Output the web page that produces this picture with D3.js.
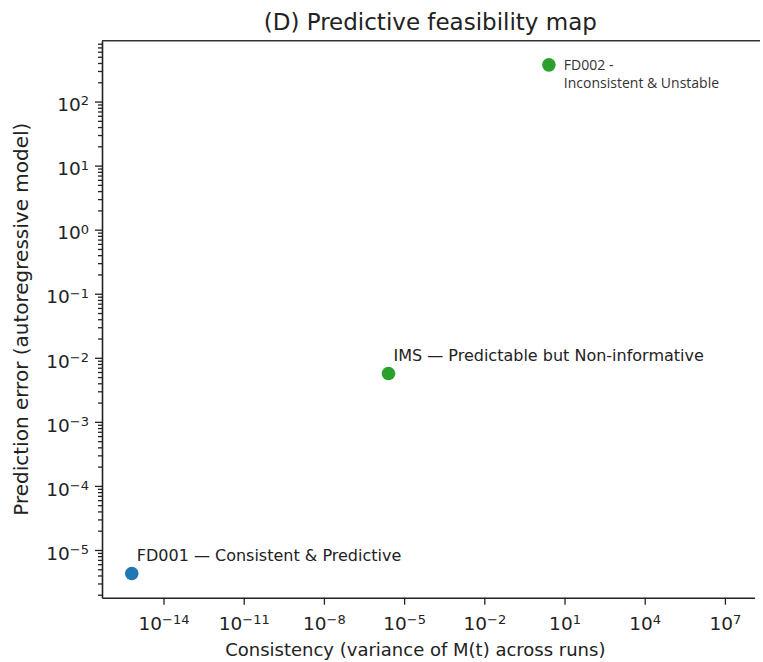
<!DOCTYPE html>
<html>
<head>
<meta charset="utf-8">
<script src="https://cdn.jsdelivr.net/npm/d3@7"></script>
<style>
  body { margin: 0; background: #fff; }
  text { font-family: "DejaVu Sans", sans-serif; fill: #222; }
</style>
</head>
<body>
<svg id="chart" width="763" height="662"></svg>
<script>
// datasets
const names = ["FD001", "IMS", "FD002"];
const consistency = [6.5e-16, 2.6e-6, 2.6];       // variance of M(t) across runs
const predictionError = [4.3e-6, 5.7e-3, 374];    // autoregressive model error
const pointLabels = [
  ["FD001 — Consistent & Predictive"],
  ["IMS — Predictable but Non-informative"],
  ["FD002 -", "Inconsistent & Unstable"]
];
const pointColors = ["#1f77b4", "#2ca02c", "#2ca02c"];

const xTickExps = [-14, -11, -8, -5, -2, 1, 4, 7];
const yTickExps = [-5, -4, -3, -2, -1, 0, 1, 2];

const svg = d3.select("#chart");
const margin = { top: 40.7, left: 102, bottom: 662 - 597.7, right: 763 - 754.6 };
const width = 763 - margin.left - margin.right;
const height = 662 - margin.top - margin.bottom;

const x = d3.scaleLog()
  .domain([Math.pow(10, -16.3), Math.pow(10, 8.11)])
  .range([0, width]);
const y = d3.scaleLog()
  .domain([Math.pow(10, -5.745), Math.pow(10, 2.95)])
  .range([height, 0]);

const frame = svg.append("g")
  .attr("transform", `translate(${margin.left},${margin.top})`);

// minor ticks for y: 2..9 in each decade
let yMinor = [];
for (let e = -6; e <= 2; e++) {
  for (let m = 2; m <= 9; m++) {
    let v = m * Math.pow(10, e);
    if (v >= y.domain()[0] && v <= y.domain()[1]) yMinor.push(v);
  }
}

function superscript(sel) {
  sel.each(function(d) {
    let t = d3.select(this).text("");
    let e = Math.round(Math.log10(d));
    t.append("tspan").text("10");
    t.append("tspan")
      .attr("dy", "-0.45em")
      .style("font-size", "13px")
      .text(e < 0 ? "\u2212" + (-e) : "" + e);
  });
}

// y axis
frame.append("g")
  .attr("class", "y-minor")
  .call(d3.axisLeft(y).tickValues(yMinor).tickSize(4).tickFormat("").tickSizeOuter(0))
  .call(g => g.select(".domain").remove());

let yAxis = frame.append("g")
  .call(d3.axisLeft(y)
    .tickValues(yTickExps.map(e => Math.pow(10, e)))
    .tickSize(7)
    .tickSizeOuter(0)
    .tickPadding(6));
yAxis.selectAll(".tick text")
  .style("font-size", "18.5px")
  .attr("dy", "0.5em")
  .call(superscript);

// x axis
let xAxis = frame.append("g")
  .attr("transform", `translate(0,${height})`)
  .call(d3.axisBottom(x)
    .tickValues(xTickExps.map(e => Math.pow(10, e)))
    .tickSize(7)
    .tickSizeOuter(0)
    .tickPadding(6));
xAxis.selectAll(".tick text")
  .style("font-size", "18.5px")
  .attr("dy", "1.05em")
  .call(superscript);

frame.selectAll(".domain, .tick line")
  .attr("stroke", "#222")
  .attr("stroke-width", 1.3);
frame.selectAll(".domain").attr("stroke-width", 1.6);

// top spine (right one is cropped away in the original)
frame.append("line")
  .attr("x1", 0).attr("x2", 763 - margin.left - 3)
  .attr("y1", 0).attr("y2", 0)
  .attr("stroke", "#333")
  .attr("stroke-width", 1.6);

// points
frame.selectAll(".pt")
  .data(names)
  .join("circle")
  .attr("class", "pt")
  .attr("cx", (d, i) => x(consistency[i]))
  .attr("cy", (d, i) => y(predictionError[i]))
  .attr("r", 6.8)
  .attr("fill", (d, i) => pointColors[i]);

// annotations
frame.selectAll(".ann")
  .data(names)
  .join("text")
  .attr("class", "ann")
  .each(function(d, i) {
    let t = d3.select(this);
    let px = x(consistency[i]), py = y(predictionError[i]);
    if (pointLabels[i].length > 1) {
      t.attr("x", px + 15).attr("y", py + 5)
        .style("font-family", "'Open Sans', sans-serif")
        .style("font-size", "14px")
        .style("fill", "#333");
      pointLabels[i].forEach((line, k) => {
        t.append("tspan").attr("x", px + 15).attr("dy", k === 0 ? 0 : 18).text(line);
      });
    } else {
      t.attr("x", px + 5).attr("y", py - 12)
        .style("font-size", "16px")
        .text(pointLabels[i][0]);
    }
  });

// title and axis labels
svg.append("text")
  .attr("x", margin.left + width / 2 + 2)
  .attr("y", 30)
  .attr("text-anchor", "middle")
  .style("font-size", "23px")
  .text("(D) Predictive feasibility map");

svg.append("text")
  .attr("x", margin.left + width / 2 - 13)
  .attr("y", 656)
  .attr("text-anchor", "middle")
  .style("font-size", "18px")
  .text("Consistency (variance of M(t) across runs)");

svg.append("text")
  .attr("transform", `translate(28,${margin.top + height / 2}) rotate(-90)`)
  .attr("text-anchor", "middle")
  .style("font-size", "20px")
  .text("Prediction error (autoregressive model)");
</script>
</body>
</html>
